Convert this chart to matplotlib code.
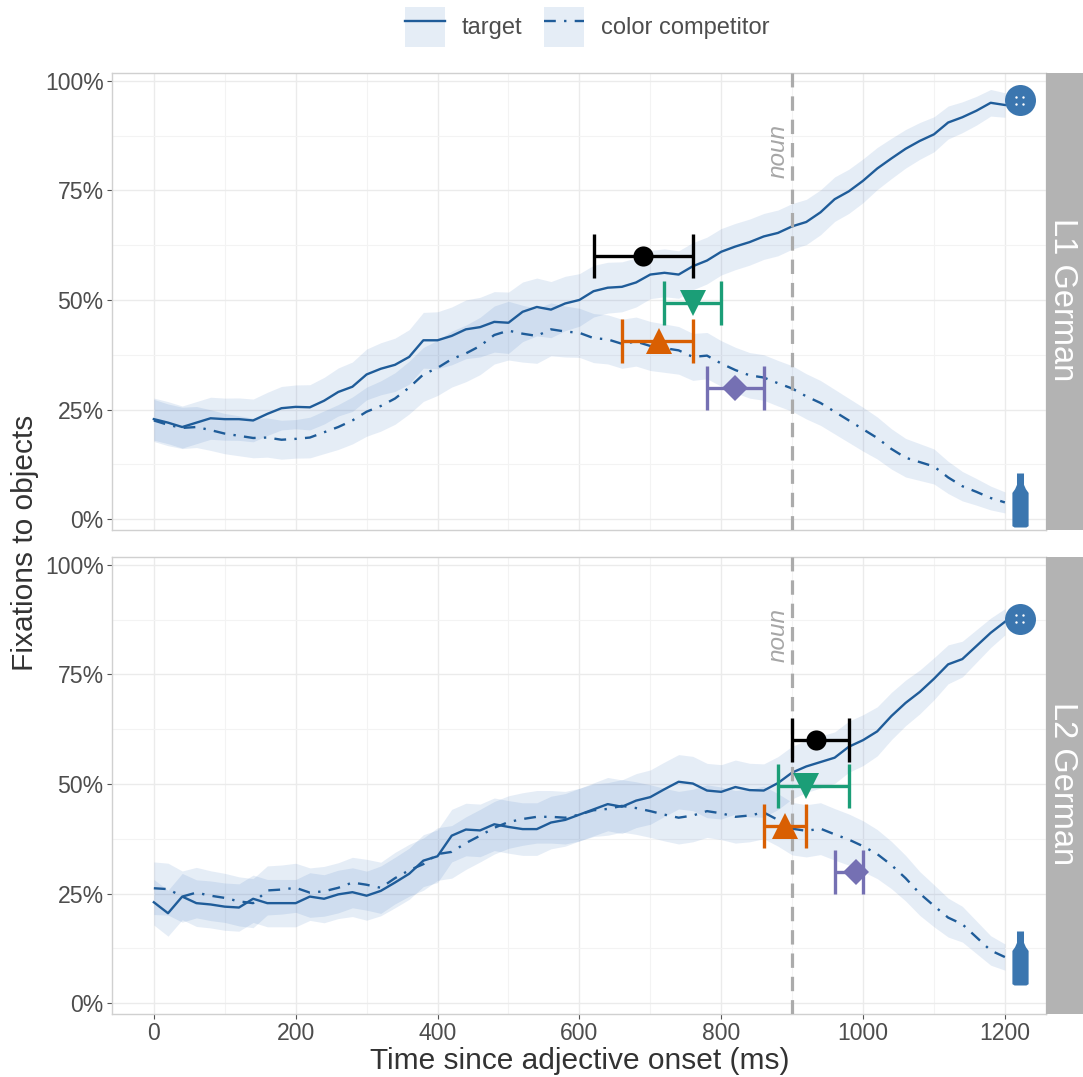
import numpy as np
import matplotlib
matplotlib.use('Agg')
import matplotlib.pyplot as plt
from matplotlib.lines import Line2D
from matplotlib.patches import Patch
from matplotlib.path import Path
from matplotlib.legend_handler import HandlerTuple

plt.rcParams['font.family'] = ['Liberation Sans', 'DejaVu Sans']

W, H = 1083, 1077

# time bins (ms)
time = np.arange(0, 1201, 20)

l1_target = [22.8, 22, 21, 22, 23, 22.8, 22.8, 22.5, 24, 25.3, 25.6, 25.5, 27, 29, 30.2, 33, 34.3, 35.2, 37, 40.8,
             40.8, 41.8, 43.3, 43.8, 45, 44.8, 47.3, 48.4, 47.8, 49.2, 50, 52, 52.8, 53, 54, 55.8, 56.2, 55.8, 57.7, 59,
             61, 62.2, 63.2, 64.5, 65.3, 66.8, 67.8, 70, 73, 74.8, 77.2, 80, 82.3, 84.5, 86.3, 87.8, 90.5, 91.7, 93.2, 95, 94.5]
l1_comp = [22.5, 21.5, 20.8, 21, 20.3, 19.5, 19, 18.5, 18.6, 18.1, 18.3, 18.6, 19.8, 21, 22.5, 24.5, 25.8, 27.5, 30, 33,
           34.5, 36.5, 37.8, 39.5, 42, 43, 42.3, 41.8, 43.3, 42.8, 42.5, 41.3, 41, 40, 40.5, 39.5, 39, 38.5, 37, 37.3,
           35.5, 34, 32.8, 32.3, 31, 29.8, 28, 26.5, 24.5, 22.5, 20.5, 18.5, 16, 14, 13, 12, 9.5, 7.5, 6.2, 4.8, 3.8]
l2_target = [23, 20.5, 24.3, 22.8, 22.5, 22, 21.8, 23.8, 22.8, 22.8, 22.8, 24.3, 23.8, 24.8, 25.3, 24.5, 25.6, 27.5, 29.5, 32.5,
             33.5, 38.2, 39.6, 39.4, 40.8, 40.2, 39.7, 39.7, 41.2, 41.8, 43, 44.2, 45.4, 44.8, 46.2, 47, 48.8, 50.5, 50.1, 48.5,
             48.2, 49.3, 48.6, 48.5, 50.2, 52.6, 54, 55, 56, 58.5, 60, 62, 65.5, 68.5, 71, 74, 77.3, 78.5, 81.5, 84.5, 87]
l2_comp = [26.2, 26, 24.3, 25.2, 24.5, 24, 23.2, 22.8, 25.7, 25.9, 26.3, 25.2, 25.5, 26.3, 27.5, 27, 26.3, 28.5, 30.3, 31.7,
           34, 34.5, 36.5, 38.2, 40, 41.3, 42, 42.5, 42.5, 42.3, 43, 44, 44.3, 45, 44.5, 43.8, 43, 42.3, 42.8, 43.8,
           43.3, 42.5, 42.8, 43.5, 41.8, 39.8, 39.3, 39.8, 38.5, 37.3, 35.8, 34, 31.5, 28.5, 25, 22.2, 19.5, 18, 15, 12, 10.5]

# ribbon half widths, read every 100 ms
ribbon_time = np.arange(0, 1201, 100)
l1_target_hw = [4.8, 4.8, 5, 5.8, 6.5, 7, 6, 5.5, 5.3, 5.2, 5, 4, 2.8]
l1_comp_hw = [4.8, 4.6, 4.4, 5.6, 6.3, 6.7, 5.6, 5.6, 5.2, 5.2, 5, 4, 2.4]
l2_target_hw = [5.2, 5.4, 5.4, 5.6, 6, 6, 6, 6.2, 6.2, 6, 5.8, 4.8, 3]
l2_comp_hw = [6, 5.6, 5.6, 5.8, 6, 6, 6, 6, 6, 6, 5.8, 4.8, 3]

# point estimate, ci low, ci high, y position
l1_ci = {'black': (690, 620, 760, 60), 'green': (760, 719, 800, 49.3), 'orange': (712, 660, 760, 40.7), 'purple': (820, 780, 860, 30)}
l2_ci = {'black': (933, 900, 980, 60), 'green': (920, 880, 980, 49.5), 'orange': (890, 860, 920, 40.5), 'purple': (990, 960, 1000, 30)}

icon_x = 1221
l1_button_y, l1_bottle_y = 95.6, 4.3
l2_button_y, l2_bottle_y = 87.7, 10.3
noun_x = 900

line_col = '#1F5C99'
ribbon_col = '#3B76C0'
icon_col = '#3B76AF'
ci_style = {'black': ('black', 'o', 14.5), 'green': ('#1B9E77', 'v', 19),
            'orange': ('#D95F02', '^', 19), 'purple': ('#7570B3', 'D', 13.5)}
dotdash = (0, (5, 3.5, 1, 3.5))

bottle = Path([(-0.13, 1), (0.13, 1), (0.13, 0.58), (0.2, 0.42), (0.3, 0.28), (0.3, -0.95), (0.22, -1), (-0.22, -1),
               (-0.3, -0.95), (-0.3, 0.28), (-0.2, 0.42), (-0.13, 0.58), (-0.13, 1)], closed=True)


def draw_panel(ax, target, comp, target_hw, comp_hw, ci, button_y, bottle_y, strip):
    target = np.array(target)
    comp = np.array(comp)
    thw = np.interp(time, ribbon_time, target_hw)
    chw = np.interp(time, ribbon_time, comp_hw)
    ax.fill_between(time, target - thw, target + thw, color=ribbon_col, alpha=0.13, lw=0)
    ax.fill_between(time, comp - chw, comp + chw, color=ribbon_col, alpha=0.13, lw=0)
    ax.plot(time, target, color=line_col, lw=1.7)
    ax.plot(time, comp, color=line_col, lw=1.7, linestyle=dotdash)
    ax.axvline(noun_x, color='#ABABAB', lw=2.3, linestyle=(0, (4.5, 2.8)), zorder=3)
    ax.text(noun_x - 20, 84, 'noun', rotation=90, color='#A6A6A6', fontsize=17.5, style='italic', ha='center', va='center')

    for k in ['black', 'green', 'orange', 'purple']:
        x, lo, hi, y = ci[k]
        col, mk, ms = ci_style[k]
        ax.errorbar(x, y, xerr=[[x - lo], [hi - x]], color=col, lw=2.4, capsize=15.5, capthick=2.4, fmt='none', zorder=5)
        ax.plot(x, y, marker=mk, ms=ms, mew=0, color=col, zorder=5.5)

    ax.scatter(icon_x, button_y, s=(31 * 0.72) ** 2, color=icon_col, lw=0, zorder=6)
    ax.scatter([icon_x - 5, icon_x + 5, icon_x - 5, icon_x + 5],
               [button_y + 0.8, button_y + 0.8, button_y - 0.8, button_y - 0.8], s=3, color='white', lw=0, zorder=7)
    ax.scatter(icon_x, bottle_y, marker=bottle, s=(54 * 0.72) ** 2, color=icon_col, lw=0, zorder=6)

    ax.set_xlim(-59, 1258)
    ax.set_ylim(-2.5, 101.8)
    ax.set_yticks([0, 25, 50, 75, 100])
    ax.set_yticklabels(['0%', '25%', '50%', '75%', '100%'])
    ax.set_yticks([12.5, 37.5, 62.5, 87.5], minor=True)
    ax.set_xticks(np.arange(0, 1201, 200))
    ax.set_xticks(np.arange(100, 1201, 200), minor=True)
    ax.grid(which='major', color='#EBEBEB', lw=1)
    ax.grid(which='minor', color='#F3F3F3', lw=0.8)
    ax.set_axisbelow(True)
    ax.tick_params(which='minor', length=0)
    ax.tick_params(which='major', labelsize=16.6, labelcolor='#4D4D4D', color='#555555', length=3.5, width=0.8, pad=2.6)
    for s in ax.spines.values():
        s.set_color('#D0D0D0')
        s.set_linewidth(1)

    pos = ax.get_position()
    sax = ax.figure.add_axes([pos.x1, pos.y0, (W - 1046) / W, pos.height], facecolor='#B3B3B3')
    sax.set_xticks([])
    sax.set_yticks([])
    for s in sax.spines.values():
        s.set_visible(False)
    sax.text(0.45, 0.505, strip, rotation=-90, color='white', fontsize=23.5, ha='center', va='center', transform=sax.transAxes)


fig = plt.figure(figsize=(W / 100, H / 100), dpi=100)
ax1 = fig.add_axes([112 / W, 1 - 530 / H, (1046 - 112) / W, 457 / H])
ax2 = fig.add_axes([112 / W, 1 - 1014 / H, (1046 - 112) / W, 457 / H])

draw_panel(ax1, l1_target, l1_comp, l1_target_hw, l1_comp_hw, l1_ci, l1_button_y, l1_bottle_y, 'L1 German')
draw_panel(ax2, l2_target, l2_comp, l2_target_hw, l2_comp_hw, l2_ci, l2_button_y, l2_bottle_y, 'L2 German')

ax1.tick_params(axis='x', which='both', length=0, labelbottom=False)

fig.text(580 / W, 1 - 1061 / H, 'Time since adjective onset (ms)', fontsize=21.5, color='#333333', ha='center', va='center')
fig.text(25 / W, 1 - 543 / H, 'Fixations to objects', fontsize=21.5, color='#333333', rotation=90, ha='center', va='center')

key = Patch(color=ribbon_col, alpha=0.13, lw=0)
handles = [(key, Line2D([], [], color=line_col, lw=1.7)),
           (key, Line2D([], [], color=line_col, lw=1.7, linestyle=dotdash))]
fig.legend(handles, ['target', 'color competitor'], handler_map={tuple: HandlerTuple(ndivide=1, pad=0)},
           loc='center', bbox_to_anchor=(587 / W, 1 - 27 / H), ncol=2, frameon=False, fontsize=17,
           labelcolor='#4D4D4D', handlelength=1.7, handleheight=2.23, handletextpad=0.7, columnspacing=0.95, borderpad=0)

fig.savefig('out.png', dpi=100)
